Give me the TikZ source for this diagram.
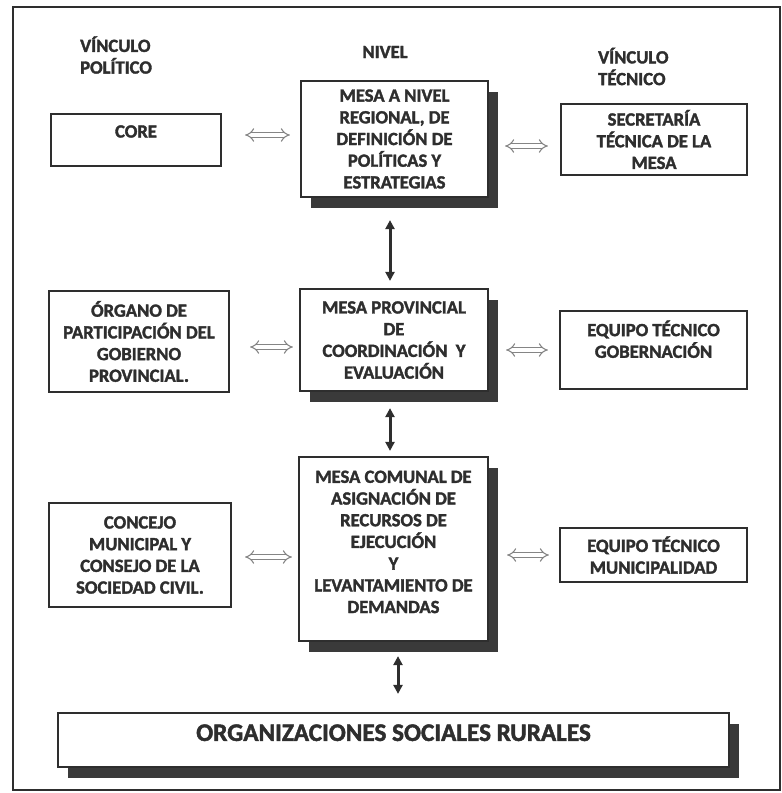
\documentclass[tikz,border=0pt]{standalone}
\usepackage{fontspec}
\setmainfont{Carlito}[BoldFeatures={FakeBold=1.8}]
\usetikzlibrary{arrows.meta,shadows}
\definecolor{ink}{HTML}{2E2E2E}
\definecolor{shade}{HTML}{3A3A3A}
\definecolor{dbl}{HTML}{858585}
\tikzset{
  txt/.style={text=ink, inner sep=0pt, font=\fontsize{18.6}{21.7}\selectfont\bfseries},
  box/.style={txt, draw=ink, line width=2.2pt, fill=white, align=center},
  shbox/.style={box, copy shadow={shadow xshift=10pt, shadow yshift=-11pt, fill=shade, draw=none}},
  varrow/.style={draw=ink, line width=3pt, {Triangle[width=9pt,length=9pt]}-{Triangle[width=9pt,length=9pt]}},
  harrow/.style={draw=dbl, double=white, double distance=3.6pt, line width=1.1pt, {Implies}-{Implies}},
}
\begin{document}
\begin{tikzpicture}[x=1pt,y=-1pt]
\useasboundingbox (0,0) rectangle (782,793);
\draw[ink, line width=2.5pt] (13,7) rectangle (780,790);

% headers
\node[txt, align=left, anchor=west] (hpol) at (80,55) {VÍNCULO\\POLÍTICO};
\node[txt] (hniv) at (385,52) {NIVEL};
\node[txt, align=left, anchor=west] (htec) at (598,66.5) {VÍNCULO\\TÉCNICO};

% level 1
\node[box, minimum width=170pt, minimum height=52pt, text height=12pt, text depth=17pt] (core) at (136,140) {CORE};
\node[shbox, minimum width=187pt, minimum height=116pt] (reg) at (394.5,139)
  {MESA A NIVEL\\REGIONAL, DE\\DEFINICIÓN DE\\POLÍTICAS Y\\ESTRATEGIAS};
\node[box, minimum width=186pt, minimum height=71pt] (sec) at (654,139.5)
  {SECRETARÍA\\TÉCNICA DE LA\\MESA};

% level 2
\node[box, minimum width=180pt, minimum height=101pt] (organo) at (139,341.5)
  {ÓRGANO DE\\PARTICIPACIÓN DEL\\GOBIERNO\\PROVINCIAL.};
\node[shbox, minimum width=188pt, minimum height=102pt] (prov) at (394,340)
  {MESA PROVINCIAL\\DE\\COORDINACIÓN \ Y\\EVALUACIÓN};
\node[box, minimum width=187pt, minimum height=78pt] (gob) at (653.5,350)
  {EQUIPO TÉCNICO\\GOBERNACIÓN\\\mbox{}};

% level 3
\node[box, minimum width=182pt, minimum height=104pt] (conc) at (140,555)
  {CONCEJO\\MUNICIPAL Y\\CONSEJO DE LA\\SOCIEDAD CIVIL.};
\node[shbox, minimum width=189pt, minimum height=184pt] (com) at (393.5,549)
  {MESA COMUNAL DE\\ASIGNACIÓN DE\\RECURSOS DE\\EJECUCIÓN\\Y\\LEVANTAMIENTO DE\\DEMANDAS\\[-7.4pt]\mbox{}};
\node[box, minimum width=187pt, minimum height=54pt] (mun) at (653.5,555)
  {EQUIPO TÉCNICO\\MUNICIPALIDAD};

% bottom
\node[shbox, minimum width=671pt, minimum height=54pt, font=\fontsize{25.2}{28}\selectfont\bfseries,
      text height=16.3pt, text depth=14.5pt] (orgs) at (393.5,740) {ORGANIZACIONES SOCIALES RURALES};

% horizontal links
\draw[harrow, shorten <=23pt, shorten >=10pt] ([yshift=5pt]core.east) -- ([yshift=4pt]reg.west);
\draw[harrow, shorten <=16pt, shorten >=12pt] ([yshift=-7pt]reg.east) -- ([yshift=-6.5pt]sec.west);
\draw[harrow, shorten <=20pt, shorten >=6pt] ([yshift=-5.5pt]organo.east) -- ([yshift=-7pt]prov.west);
\draw[harrow, shorten <=17pt, shorten >=11pt] ([yshift=-10pt]prov.east) -- (gob.west);
\draw[harrow, shorten <=13pt, shorten >=6pt] ([yshift=-2pt]conc.east) -- ([yshift=-8pt]com.west);
\draw[harrow, shorten <=18pt, shorten >=10pt] ([yshift=-6pt]com.east) -- (mun.west);

% vertical links
\draw[varrow, shorten <=22pt, shorten >=7pt] ([xshift=-4.5pt]reg.south) -- ([xshift=-4pt]prov.north);
\draw[varrow, shorten <=16pt, shorten >=5pt] ([xshift=-4pt]prov.south) -- ([xshift=-3.5pt]com.north);
\draw[varrow, shorten <=14pt, shorten >=18pt] ([xshift=4.5pt]com.south) -- ([xshift=4.5pt]orgs.north);
\end{tikzpicture}
\end{document}
